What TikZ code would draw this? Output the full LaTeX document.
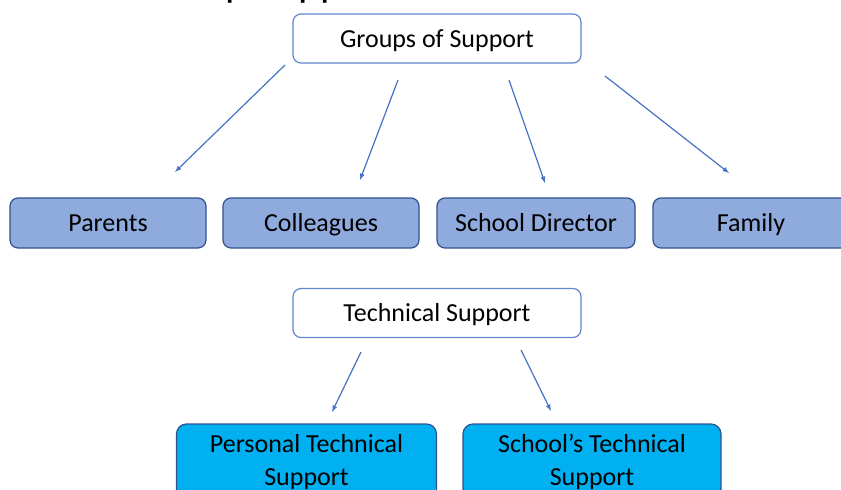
\documentclass[tikz,border=0pt]{standalone}
\usepackage{fontspec}
\setmainfont{Carlito}
\usetikzlibrary{calc, positioning, shapes, arrows}
\definecolor{linkblue}{HTML}{4472C4}
\definecolor{edgeblue}{HTML}{2F528F}
\definecolor{paleblue}{HTML}{8FAADC}
\definecolor{skyblue}{HTML}{00B0F0}
\tikzset{
	headbox/.style={draw=linkblue!85, fill=white, line width=1.2pt, rounded corners=8pt, minimum width=288pt, minimum height=49pt, text height=20pt, text depth=3pt},
	memberbox/.style={draw=edgeblue, fill=paleblue, line width=1.2pt, rounded corners=8pt, minimum width=196pt, minimum height=50pt, text height=20pt, text depth=3pt},
	techbox/.style={draw=edgeblue, fill=skyblue, line width=1.2pt, rounded corners=10pt, minimum width=260pt, minimum height=76pt, align=center},
	link/.style={-latex, draw=linkblue, line width=1.2pt}
}

\begin{document}
\begin{tikzpicture}[x=1pt, y=-1pt, font=\fontsize{26}{33}\selectfont]

		%fix the page to the size of the reference
		\useasboundingbox (0,0) rectangle (841,490);

		%title that runs off the top edge
		\node[anchor=base west, font=\fontsize{42}{48}\selectfont] (title) at (137,-3.5) {Group Support};

		%first tree
		\node[headbox] (groups) at (437,38.5) {Groups of Support};
		\node[memberbox] (parents) at (108,223) {Parents};
		\node[memberbox] (colleagues) at (321,223) {Colleagues};
		\node[memberbox, minimum width=198pt] (director) at (536,223) {School Director};
		\node[memberbox] (family) at (751,223) {Family};

		\coordinate (g1) at (285,65);   \coordinate (p1) at (175,172);
		\coordinate (g2) at (398,80);   \coordinate (c1) at (360,180);
		\coordinate (g3) at (509,80);   \coordinate (d1) at (545,183);
		\coordinate (g4) at (605,76);   \coordinate (f1) at (729,173);
		\draw[link] (g1) -- (p1);
		\draw[link] (g2) -- (c1);
		\draw[link] (g3) -- (d1);
		\draw[link] (g4) -- (f1);

		%second tree
		\node[headbox] (technical) at (437,313) {Technical Support};
		\node[techbox] (personal) at (306.5,462) {Personal Technical\\Support};
		\node[techbox, minimum width=258pt] (schooltech) at (592,462) {School’s Technical\\Support};

		\coordinate (t1) at (361,352);  \coordinate (s1) at (332,412);
		\coordinate (t2) at (521,350);  \coordinate (s2) at (551,411);
		\draw[link] (t1) -- (s1);
		\draw[link] (t2) -- (s2);

	\end{tikzpicture}
\end{document}
